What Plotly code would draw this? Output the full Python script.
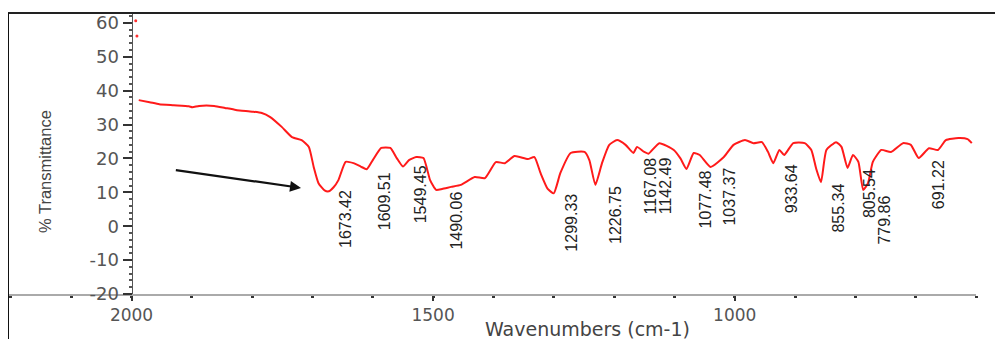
import plotly.graph_objects as go

# ---- data ----
wavenumber = [1988, 1970, 1954, 1930, 1905, 1899, 1888, 1863, 1845, 1827, 1800, 1784, 1770,
              1751, 1734, 1718, 1706, 1698, 1690, 1680, 1673, 1665, 1657, 1645, 1632, 1620,
              1610, 1600, 1586, 1571, 1560, 1550, 1540, 1528, 1516, 1505, 1495, 1485, 1470,
              1454, 1431, 1414, 1396, 1381, 1365, 1343, 1332, 1322, 1310, 1300, 1289, 1272,
              1249, 1241, 1231, 1220, 1208, 1195, 1181, 1168, 1162, 1150, 1143, 1125, 1101,
              1090, 1080, 1068, 1058, 1040, 1018, 1002, 983, 969, 955, 945, 936, 926, 918,
              903, 884, 873, 865, 857, 848, 832, 823, 813, 804, 795, 787, 779, 771, 757,
              741, 721, 708, 695, 678, 663, 650, 629, 614, 607]
transmittance = [37.2, 36.6, 36.0, 35.7, 35.4, 35.1, 35.5, 35.5, 34.9, 34.3, 33.8, 33.4, 32.2,
                 29.3, 26.3, 25.4, 23.4, 17.5, 12.7, 10.6, 10.3, 11.5, 13.6, 19.0, 18.6, 17.6,
                 16.8, 19.5, 23.1, 23.1, 20.0, 17.6, 19.5, 20.4, 20.1, 13.6, 10.7, 11.0, 11.6,
                 12.2, 14.5, 14.2, 18.9, 18.6, 20.7, 19.8, 20.4, 15.7, 11.0, 9.7, 15.7, 21.6,
                 21.9, 19.5, 12.2, 18.6, 24.0, 25.4, 24.0, 21.6, 23.4, 21.9, 21.4, 24.5, 22.5,
                 20.0, 16.9, 21.6, 21.0, 17.5, 20.4, 24.0, 25.4, 24.5, 24.8, 22.0, 18.6, 22.5, 21.0,
                 24.5, 24.5, 22.5, 17.0, 13.0, 22.5, 24.8, 23.4, 17.2, 21.0, 19.0, 10.7, 12.7, 19.0, 22.5,
                 21.9, 24.5, 24.0, 20.1, 23.0, 22.5, 25.4, 26.0, 25.7, 24.5]

stray_wn = [1991, 1993]
stray_t = [56.1, 60.6]

peak_labels = ["1673.42", "1609.51", "1549.45", "1490.06", "1299.33", "1226.75", "1167.08",
               "1142.49", "1077.48", "1037.37", "933.64", "855.34", "805.54", "779.86", "691.22"]
peak_label_y = [2.0, 7.4, 9.5, 1.7, 1.1, 3.3, 12.0, 12.0, 7.9, 8.8, 11.1, 5.5, 9.5, 1.8, 12.4]

y_tick_vals = [-20, -10, 0, 10, 20, 30, 40, 50, 60]
y_tick_text = ["-20", "-10", "0", "10", "20", "30", "40", "50", "60"]
x_tick_vals = [2000, 1500, 1000]
x_tick_text = ["2000", "1500", "1000"]

arrow_head = (1719, 11.3)
arrow_tail = (1929, 16.6)

x_range = [2203.1, 600]
y_range = [-20, 62.9]

# page offset of the figure (browser body margin is 8px)
OFF = 8
W, H = 1003 - OFF, 339 - OFF
L, R, T, B = 1, 27, 5, 45
PW = W - L - R
PH = H - T - B


def px_to_paper_x(page_x):
    return (page_x - OFF - L) / PW


def px_to_paper_y(page_y):
    return (H - B - (page_y - OFF)) / PH


fig = go.Figure()
fig.add_trace(go.Scatter(x=wavenumber, y=transmittance, mode="lines",
                         line=dict(color="#ff1a1a", width=2, shape="spline", smoothing=0.5),
                         showlegend=False, hoverinfo="skip"))
fig.add_trace(go.Scatter(x=stray_wn, y=stray_t, mode="markers",
                         marker=dict(color="#ff3030", size=3), showlegend=False))

label_font = dict(family="Liberation Sans, Arial, sans-serif", size=16, color="#222")
for lab, ly in zip(peak_labels, peak_label_y):
    fig.add_annotation(x=float(lab), y=ly, xref="x", yref="y", text=lab, showarrow=False,
                       textangle=-90, xanchor="center", yanchor="middle", xshift=17,
                       font=label_font)

fig.add_annotation(x=arrow_head[0], y=arrow_head[1], ax=arrow_tail[0], ay=arrow_tail[1],
                   xref="x", yref="y", axref="x", ayref="y", text="", showarrow=True,
                   arrowhead=2, arrowsize=1, arrowwidth=2.2, arrowcolor="#111")

fig.add_annotation(x=px_to_paper_x(45), y=px_to_paper_y(172), xref="paper", yref="paper",
                   text="% Transmittance", showarrow=False, textangle=-90,
                   xanchor="center", yanchor="middle",
                   font=dict(family="Liberation Sans, Arial, sans-serif", size=16.5, color="#444"))
fig.add_annotation(x=px_to_paper_x(587), y=px_to_paper_y(329), xref="paper", yref="paper",
                   text="Wavenumbers (cm-1)", showarrow=False, xanchor="center", yanchor="middle",
                   font=dict(family="DejaVu Sans, sans-serif", size=19, color="#444"))

fig.add_shape(type="line", xref="paper", yref="paper", x0=px_to_paper_x(8), x1=px_to_paper_x(1003),
              y0=1, y1=1, line=dict(color="#222", width=2))
fig.add_shape(type="line", xref="paper", yref="paper", x0=px_to_paper_x(8), x1=px_to_paper_x(8),
              y0=1, y1=px_to_paper_y(345), line=dict(color="#111", width=2))

fig.update_layout(
    width=W, height=H,
    margin=dict(l=L, r=R, t=T, b=B),
    paper_bgcolor="white", plot_bgcolor="white",
    xaxis=dict(range=x_range, tickmode="array", tickvals=x_tick_vals, ticktext=x_tick_text,
               showgrid=False, zeroline=False,
               showline=True, linecolor="#aaa", linewidth=1.5,
               ticks="outside", ticklen=5, tickwidth=2, tickcolor="#333",
               tickfont=dict(family="DejaVu Sans, sans-serif", size=17, color="#555"),
               minor=dict(tickmode="linear", tick0=0, dtick=100, ticks="outside",
                          ticklen=2, tickwidth=3, tickcolor="#333")),
    yaxis=dict(range=y_range, tickmode="array", tickvals=y_tick_vals, ticktext=y_tick_text,
               showgrid=False, zeroline=False,
               anchor="free", position=px_to_paper_x(131.5),
               showline=True, linecolor="#555", linewidth=1,
               ticks="outside", ticklen=9, tickwidth=1.5, tickcolor="#333",
               tickfont=dict(family="DejaVu Sans, sans-serif", size=18, color="#555"),
               minor=dict(tickmode="linear", tick0=0, dtick=2, ticks="outside",
                          ticklen=3, tickwidth=2, tickcolor="#555")),
)

fig.write_html("out.html")
